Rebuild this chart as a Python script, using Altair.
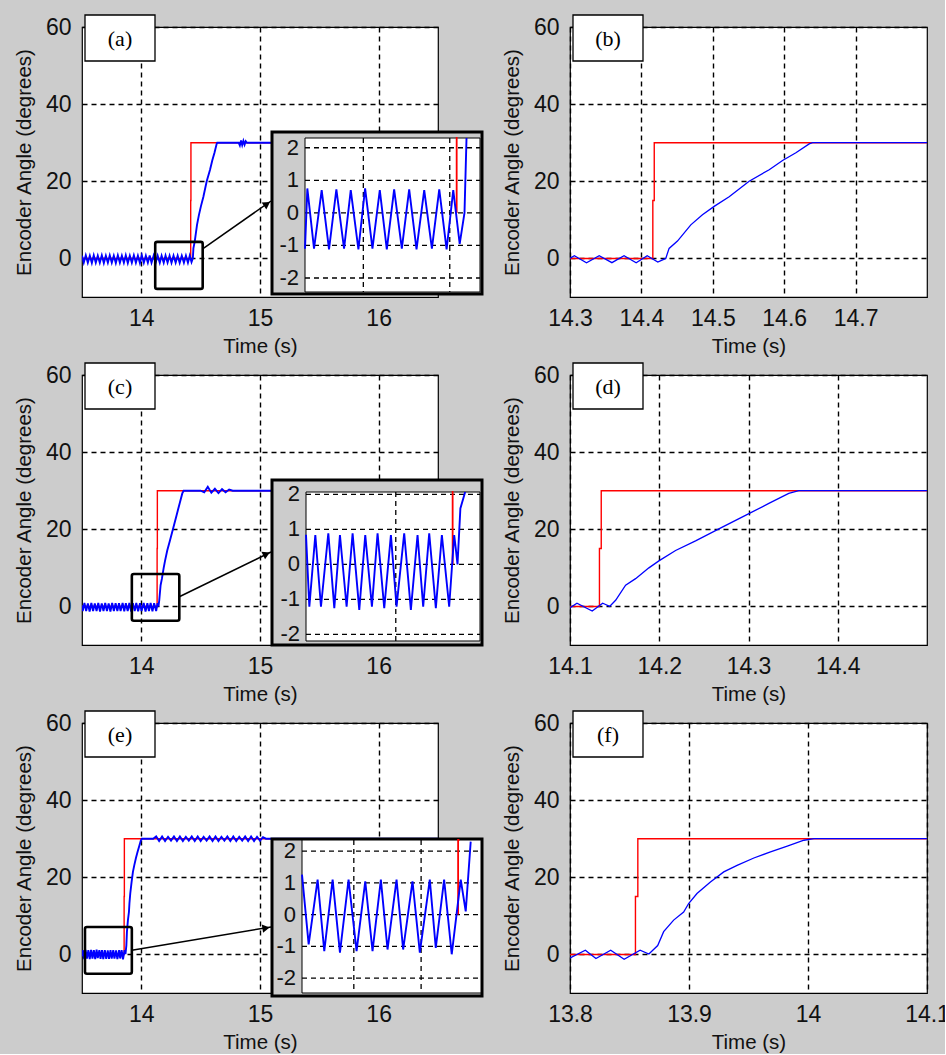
import altair as alt
import pandas as pd

BG = "#cccccc"
RED = "#ff0000"
BLUE = "#0000ff"
SANS = "Liberation Sans"
SERIF = "Liberation Serif"

# ---------------- data: experiment 1 (panels a, b) ----------------
e1_t = [13.500, 13.515, 13.532, 13.549, 13.566, 13.583, 13.599, 13.616, 13.633, 13.650,
        13.667, 13.684, 13.701, 13.718, 13.734, 13.751, 13.768, 13.785, 13.802, 13.819,
        13.836, 13.853, 13.869, 13.886, 13.903, 13.920, 13.937, 13.954, 13.971, 13.988,
        14.004, 14.021, 14.038, 14.055,
        14.0704, 14.0859, 14.1036, 14.1206, 14.1376, 14.1554, 14.1709, 14.1886, 14.2041, 14.2211,
        14.2381, 14.2543, 14.2713, 14.2891, 14.3061, 14.3231, 14.3409, 14.3587, 14.3757, 14.3927,
        14.4081, 14.4230,
        14.4341, 14.4388, 14.4505, 14.4692, 14.4855, 14.5019, 14.5229, 14.5509, 14.5790, 14.5977,
        14.6164, 14.6350, 14.6397,
        14.820, 14.830, 14.840, 14.850, 14.860, 14.870, 14.880, 14.890, 16.500]
e1_v = [0.7, -1.1, 0.8, -1.1, 0.7, -1.2, 0.8, -1.1, 0.7, -1.1,
        0.8, -1.2, 0.7, -1.1, 0.8, -1.1, 0.7, -1.2, 0.8, -1.1,
        0.7, -1.1, 0.8, -1.2, 0.7, -1.1, 0.8, -1.1, 0.7, -1.2,
        0.8, -1.1, 0.7, -1.1,
        0.75, -1.10, 0.70, -1.12, 0.72, -1.10, 0.70, -1.12, 0.75, -1.10,
        0.70, -1.12, 0.72, -1.10, 0.72, -1.12, 0.70, -1.10, 0.72, -1.12,
        0.70, -0.95,
        0.0, 2.6, 4.5, 8.7, 11.3, 13.5, 16.0, 20.0, 23.0, 25.4,
        27.4, 29.7, 30.0,
        30.0, 29.3, 30.6, 29.4, 30.5, 29.5, 30.4, 30.0, 30.0]
r1_t = [13.5, 14.416, 14.416, 14.418, 14.418, 16.5]
r1_v = [0, 0, 15, 15, 30, 30]

# ---------------- data: experiment 2 (panels c, d) ----------------
e2_t = [13.5000, 13.5058, 13.5204, 13.5350, 13.5496, 13.5642, 13.5788, 13.5934, 13.6080, 13.6226,
        13.6372, 13.6518, 13.6664, 13.6810, 13.6956, 13.7102, 13.7248, 13.7394, 13.7540, 13.7686,
        13.7832,
        13.7978, 13.8118, 13.8250, 13.8422, 13.8562, 13.8694, 13.8850, 13.8990, 13.9146, 13.9286,
        13.9442, 13.9574, 13.9730, 13.9886, 14.0018, 14.0197, 14.0353, 14.0509, 14.0641, 14.0782,
        14.0937, 14.1078, 14.1249, 14.1366,
        14.1399, 14.1444, 14.1511, 14.1623, 14.1735, 14.1884, 14.1996, 14.2183, 14.2407, 14.2668,
        14.2966, 14.3228, 14.3451, 14.3563,
        14.500, 14.530, 14.560, 14.590, 14.620, 14.650, 14.680, 14.710, 14.740, 14.770, 16.500]
e2_v = [0.3, -1.2, 0.9, -1.2, 0.8, -1.3, 0.9, -1.2, 0.8, -1.2,
        0.9, -1.3, 0.8, -1.2, 0.9, -1.2, 0.8, -1.3, 0.9, -1.2,
        0.85,
        -1.21, 0.84, -1.21, 0.89, -1.25, 0.84, -1.21, 0.89, -1.30, 0.84,
        -1.21, 0.89, -1.25, 0.84, -1.21, 0.89, -1.30, 0.84, -1.21, 0.89,
        -1.25, 0.84, -1.21, 0.84,
        0.5, 0.0, 1.6, 5.5, 7.2, 10.0, 11.8, 14.5, 17.0, 20.1,
        23.6, 26.7, 29.3, 30.0,
        30.0, 29.6, 31.0, 29.5, 30.5, 29.4, 30.4, 29.6, 30.3, 30.0, 30.0]
r2_t = [13.5, 14.133, 14.133, 14.135, 14.135, 16.5]
r2_v = [0, 0, 15, 15, 30, 30]

# ---------------- data: experiment 3 (panels e, f) ----------------
e3_t = [13.5000, 13.5070, 13.5186, 13.5302, 13.5418, 13.5534, 13.5650, 13.5766, 13.5882, 13.5998,
        13.6114,
        13.6230, 13.6329, 13.6462, 13.6561, 13.6685, 13.6794, 13.6922, 13.7041, 13.7170, 13.7278,
        13.7402, 13.7501, 13.7635, 13.7733, 13.7872, 13.7981, 13.8129, 13.8218, 13.8342, 13.8455,
        13.8589, 13.8663, 13.8737,
        13.8787, 13.8871, 13.8955, 13.8997, 13.9067, 13.9180, 13.9292, 13.9404, 13.9545, 13.9685,
        13.9826, 13.9966, 14.0050,
        14.100, 14.125, 14.150, 14.175, 14.200, 14.225, 14.250, 14.275, 14.300, 14.325,
        14.350, 14.375, 14.400, 14.425, 14.450, 14.475, 14.500, 14.525, 14.550, 14.575,
        14.600, 14.625, 14.650, 14.675, 14.700, 14.725, 14.750, 14.775, 14.800, 14.825,
        14.850, 14.875, 14.900, 14.925, 14.950, 14.975, 15.000, 15.025, 15.050, 16.500]
e3_v = [-0.5, 1.1, -1.2, 1.2, -1.1, 1.1, -1.2, 1.2, -1.1, 1.1,
        -1.2,
        1.26, -0.94, 1.10, -1.15, 1.10, -1.20, 1.10, -1.15, 1.05, -1.15,
        1.10, -1.10, 1.10, -1.10, 1.05, -1.20, 1.10, -1.05, 1.10, -1.25,
        1.10, 0.10, 2.30,
        5.9, 8.9, 11.0, 13.2, 15.8, 18.8, 21.4, 23.1, 25.0, 26.6,
        28.1, 29.6, 30.0,
        30.0, 30.6, 29.4, 30.6, 29.4, 30.5, 29.5, 30.6, 29.4, 30.6,
        29.4, 30.5, 29.5, 30.6, 29.4, 30.6, 29.4, 30.5, 29.5, 30.6,
        29.4, 30.6, 29.4, 30.5, 29.5, 30.6, 29.4, 30.6, 29.4, 30.5,
        29.5, 30.6, 29.4, 30.6, 29.4, 30.5, 29.5, 30.4, 30.0, 30.0]
r3_t = [13.5, 13.855, 13.855, 13.857, 13.857, 16.5]
r3_v = [0, 0, 15, 15, 30, 30]

# ---------------- tick values ----------------
y_ticks = [0, 20, 40, 60]
main_x_ticks = [14, 15, 16]
b_x_ticks = [14.3, 14.4, 14.5, 14.6, 14.7]
d_x_ticks = [14.1, 14.2, 14.3, 14.4]
f_x_ticks = [13.8, 13.9, 14.0, 14.1]
inset_y_ticks = [2, 1, 0, -1, -2]
inset_y_labels = ["2", "1", "0", "-1", "-2"]

# ---------------- annotation geometry (layout) ----------------
zoom_a = [14.117, 14.517, -7.9, 4.3]
zoom_c = [13.92, 14.32, -3.7, 8.4]
zoom_e = [13.525, 13.92, -5.0, 7.1]
inset_a = dict(xdom=[14.065, 14.47], ydom=[-2.43, 2.3], xr=[223, 398], yr=[265, 111],
               frame=[190, 400, 105, 267], xticks=[14.2, 14.4], keep=[14.05, 14.44],
               arrow_from=[14.517, 2.5], arrow_to=[189, 174], head=[185, 177], angle=56)
inset_c = dict(xdom=[13.79, 14.197], ydom=[-2.19, 2.07], xr=[224, 398], yr=[266, 117],
               frame=[190, 400, 105, 270], xticks=[14.0], keep=[13.78, 14.163],
               arrow_from=[14.32, 2.5], arrow_to=[189, 177], head=[184.5, 179], angle=64)
inset_e = dict(xdom=[13.623, 13.889], ydom=[-2.47, 2.35], xr=[220, 399], yr=[270, 117],
               frame=[190, 400, 116, 273], xticks=[13.7, 13.8], keep=[13.62, 13.874],
               arrow_from=[13.92, 1.1], arrow_to=[189, 204], head=[184, 205], angle=81)

LW, LH = 356, 270
RW = 357


def sdf(t, v):
    assert len(t) == len(v)
    return pd.DataFrame({"t": t, "v": v, "i": list(range(len(t)))})


one = pd.DataFrame({"k": [0]})


def main_layer(label, s_t, s_v, r_t, r_v, xdom, xticks, lw, zoom=None, inset=None):
    xs = alt.Scale(domain=xdom, nice=False, zero=False)
    ys = alt.Scale(domain=[-10, 60], nice=False, zero=False)
    X = alt.X("t:Q", scale=xs, axis=alt.Axis(values=xticks, format=".4~g", title="Time (s)",
                                           labelFlush=False))
    Y = alt.Y("v:Q", scale=ys, axis=alt.Axis(values=y_ticks, format="d",
                                           title="Encoder Angle (degrees)"))
    red = alt.Chart(sdf(r_t, r_v)).mark_line(color=RED, strokeWidth=1.4, clip=True).encode(
        x=X, y=Y, order=alt.Order("i:Q"))
    blue = alt.Chart(sdf(s_t, s_v)).mark_line(color=BLUE, strokeWidth=lw, clip=True).encode(
        x=X, y=Y, order=alt.Order("i:Q"))
    layers = [red, blue]
    if zoom is not None:
        zdf = pd.DataFrame({"t": [zoom[0]], "t2": [zoom[1]], "v": [zoom[2]], "v2": [zoom[3]]})
        layers.append(alt.Chart(zdf).mark_rect(fillOpacity=0, stroke="black", strokeWidth=2.6,
                                               cornerRadius=2).encode(
            x=X, x2="t2:Q", y=Y, y2="v2:Q"))
        adf = pd.DataFrame({"t": [inset["arrow_from"][0]], "v": [inset["arrow_from"][1]]})
        layers.append(alt.Chart(adf).mark_rule(color="black", strokeWidth=1.5).encode(
            x=X, y=Y, x2=alt.value(inset["arrow_to"][0]), y2=alt.value(inset["arrow_to"][1])))
        layers.append(alt.Chart(one).mark_point(shape="triangle-up", filled=True, size=70,
                                                color="black", opacity=1,
                                                angle=inset["angle"]).encode(
            x=alt.value(inset["head"][0]), y=alt.value(inset["head"][1])))
    layers.append(alt.Chart(one).mark_rect(fill="white", stroke="black", strokeWidth=1.3).encode(
        x=alt.value(3), x2=alt.value(73), y=alt.value(-12), y2=alt.value(34)))
    layers.append(alt.Chart(one).mark_text(text=label, font=SERIF, fontSize=22,
                                           color="black").encode(
        x=alt.value(38), y=alt.value(12)))
    return alt.layer(*layers)


def inset_layer(s_t, s_v, r_t, r_v, p):
    ix = alt.Scale(domain=p["xdom"], range=p["xr"], clamp=True, nice=False, zero=False)
    iy = alt.Scale(domain=p["ydom"], range=p["yr"], clamp=True, nice=False, zero=False)
    X = alt.X("t:Q", scale=ix, axis=None)
    Y = alt.Y("v:Q", scale=iy, axis=None)
    f = p["frame"]
    frame = alt.Chart(one).mark_rect(fill=BG, stroke="black", strokeWidth=3).encode(
        x=alt.value(f[0]), x2=alt.value(f[1]), y=alt.value(f[2]), y2=alt.value(f[3]))
    inner = alt.Chart(one).mark_rect(fill="white", stroke="black", strokeWidth=1).encode(
        x=alt.value(p["xr"][0]), x2=alt.value(p["xr"][1]),
        y=alt.value(p["yr"][1]), y2=alt.value(p["yr"][0]))
    ydf = pd.DataFrame({"v": inset_y_ticks, "lab": inset_y_labels})
    hgrid = alt.Chart(ydf).mark_rule(color="black", strokeDash=[5, 4], strokeWidth=1.3).encode(
        y=Y, x=alt.value(p["xr"][0]), x2=alt.value(p["xr"][1]))
    xdf = pd.DataFrame({"t": p["xticks"]})
    vgrid = alt.Chart(xdf).mark_rule(color="black", strokeDash=[5, 4], strokeWidth=1.3).encode(
        x=X, y=alt.value(p["yr"][1]), y2=alt.value(p["yr"][0]))
    labs = alt.Chart(ydf).mark_text(align="right", baseline="middle", font=SANS, fontSize=22,
                                    color="#111").encode(
        y=Y, x=alt.value(p["xr"][0] - 6), text="lab:N")
    keep = f"datum.t >= {p['keep'][0]} && datum.t <= {p['keep'][1]}"
    red = alt.Chart(sdf(r_t, r_v)).transform_filter(keep).mark_line(
        color=RED, strokeWidth=1.8).encode(x=X, y=Y, order=alt.Order("i:Q"))
    blue = alt.Chart(sdf(s_t, s_v)).transform_filter(keep).mark_line(
        color=BLUE, strokeWidth=1.9).encode(x=X, y=Y, order=alt.Order("i:Q"))
    return alt.layer(frame, inner, hgrid, vgrid, labs, red, blue)


def left_panel(label, s_t, s_v, r_t, r_v, zoom, p):
    m = main_layer(label, s_t, s_v, r_t, r_v, [13.5, 16.5], main_x_ticks, 1.9, zoom, p)
    ins = inset_layer(s_t, s_v, r_t, r_v, p)
    return alt.layer(m, ins).resolve_scale(x="independent", y="independent").properties(
        width=LW, height=LH)


def right_panel(label, s_t, s_v, r_t, r_v, xdom, xticks):
    return main_layer(label, s_t, s_v, r_t, r_v, xdom, xticks, 1.3).properties(
        width=RW, height=LH)


pa = left_panel("(a)", e1_t, e1_v, r1_t, r1_v, zoom_a, inset_a)
pb = right_panel("(b)", e1_t, e1_v, r1_t, r1_v, [14.3, 14.8], b_x_ticks)
pc = left_panel("(c)", e2_t, e2_v, r2_t, r2_v, zoom_c, inset_c)
pd_ = right_panel("(d)", e2_t, e2_v, r2_t, r2_v, [14.1, 14.5], d_x_ticks)
pe = left_panel("(e)", e3_t, e3_v, r3_t, r3_v, zoom_e, inset_e)
pf = right_panel("(f)", e3_t, e3_v, r3_t, r3_v, [13.8, 14.1], f_x_ticks)

chart = alt.concat(pa, pb, pc, pd_, pe, pf, columns=2,
                   spacing={"row": 78, "column": 132}, bounds="flush").configure(
    background=BG,
    padding={"left": 13, "top": 13, "right": -5, "bottom": 0},
).configure_view(
    fill="white", stroke="black", strokeWidth=1.2
).configure_axis(
    grid=True, gridColor="black", gridDash=[5, 4], gridWidth=1.4, gridOpacity=1,
    domain=False, ticks=False, tickSize=0,
    labelFont=SANS, labelFontSize=23, labelColor="#111",
    titleFont=SANS, titleFontSize=20.5, titleFontWeight="normal", titleColor="#111",
).configure_axisX(labelPadding=10, titlePadding=6).configure_axisY(labelPadding=11, titlePadding=11)

chart.save("out.html", embed_options={"renderer": "svg", "actions": False})
